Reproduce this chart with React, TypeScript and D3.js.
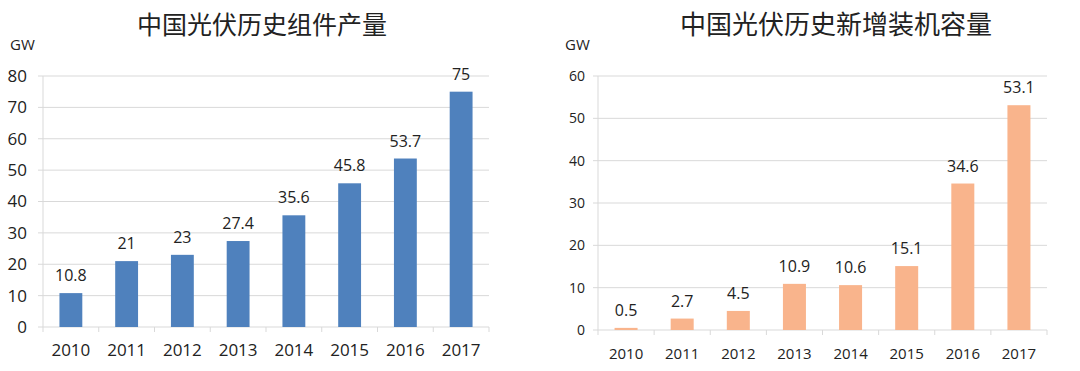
import * as d3 from 'd3';
import React from 'react';

const years = ['2010', '2011', '2012', '2013', '2014', '2015', '2016', '2017'];
const moduleOutput = [10.8, 21, 23, 27.4, 35.6, 45.8, 53.7, 75];
const newInstalled = [0.5, 2.7, 4.5, 10.9, 10.6, 15.1, 34.6, 53.1];
const leftTicks = [0, 10, 20, 30, 40, 50, 60, 70, 80];
const rightTicks = [0, 10, 20, 30, 40, 50, 60];

const numFont = '"Open Sans", "Noto Sans", sans-serif';
const cjkFont = '"Noto Sans CJK SC", sans-serif';

type PanelProps = {
  title: string;
  values: number[];
  ticks: number[];
  color: string;
  x0: number;
  x1: number;
  yTop: number;
  yBottom: number;
  titleX: number;
  titleSize: number;
  tickSize: number;
  catSize: number;
  labelRight: number;
  gwX: number;
};

function Panel(p: PanelProps) {
  const x = d3.scaleBand().domain(years).range([p.x0, p.x1]).paddingInner(0).paddingOuter(0);
  const y = d3.scaleLinear().domain([0, d3.max(p.ticks) as number]).range([p.yBottom, p.yTop]);
  const barW = x.bandwidth() * 0.41;
  const grid = '#d9d9d9';
  return (
    <g>
      <text x={p.titleX} y={34} textAnchor="middle" fontFamily={cjkFont} fontSize={p.titleSize} fill="#222">
        {p.title}
      </text>
      <text x={p.gwX} y={50} fontFamily={numFont} fontSize={15} fill="#222">GW</text>
      {p.ticks.map(t => (
        <g key={t}>
          <line x1={p.x0 - 5} x2={p.x1} y1={y(t)} y2={y(t)} stroke={grid} strokeWidth={1} />
          <text x={p.labelRight} y={y(t)} dy="0.35em" textAnchor="end" fontFamily={numFont} fontSize={p.tickSize} fill="#222">
            {t}
          </text>
        </g>
      ))}
      <line x1={p.x0} x2={p.x0} y1={p.yTop} y2={p.yBottom + 5} stroke={grid} />
      {years.map(yr => (
        <line key={'t' + yr} x1={(x(yr) as number) + x.bandwidth()} x2={(x(yr) as number) + x.bandwidth()}
          y1={p.yBottom} y2={p.yBottom + 5} stroke={grid} />
      ))}
      {years.map((yr, i) => {
        const cx = (x(yr) as number) + x.bandwidth() / 2;
        return (
          <g key={yr}>
            <rect x={cx - barW / 2} y={y(p.values[i])} width={barW} height={p.yBottom - y(p.values[i])} fill={p.color} />
            <text x={cx} y={y(p.values[i]) - 12} textAnchor="middle" fontFamily={numFont} fontSize={16} fill="#222">
              {p.values[i]}
            </text>
            <text x={cx} y={p.yBottom + 29} textAnchor="middle" fontFamily={numFont} fontSize={p.catSize} fill="#222">
              {yr}
            </text>
          </g>
        );
      })}
    </g>
  );
}

export default function App() {
  return (
    <svg width={1080} height={371} style={{ position: 'fixed', left: 0, top: 0, background: '#fff' }}>
      <rect width={1080} height={371} fill="#fff" />
      <Panel title="中国光伏历史组件产量" values={moduleOutput} ticks={leftTicks} color="#4f81bd"
        x0={43} x1={489} yTop={76} yBottom={327} titleX={262} titleSize={25}
        tickSize={17} catSize={17} labelRight={27} gwX={10} />
      <Panel title="中国光伏历史新增装机容量" values={newInstalled} ticks={rightTicks} color="#f9b48c"
        x0={598} x1={1047} yTop={76} yBottom={330} titleX={836} titleSize={26}
        tickSize={14} catSize={15} labelRight={585} gwX={565} />
    </svg>
  );
}
